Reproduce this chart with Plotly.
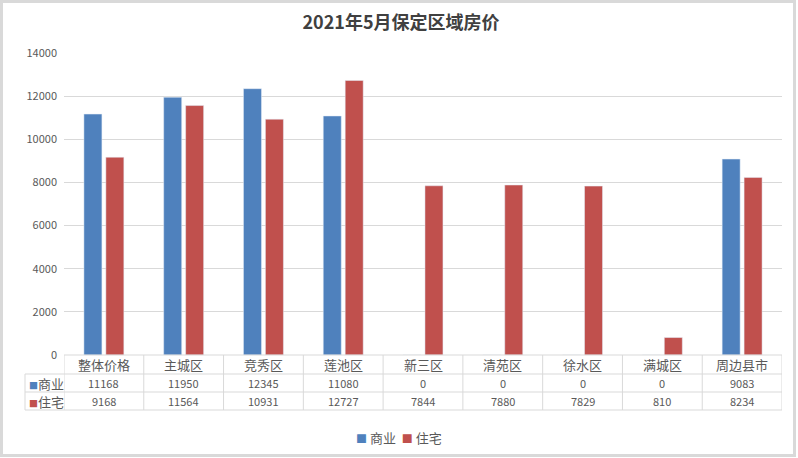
import plotly.graph_objects as go

# data
categories = ["整体价格", "主城区", "竞秀区", "莲池区", "新三区", "清苑区", "徐水区", "满城区", "周边县市"]
commercial = [11168, 11950, 12345, 11080, 0, 0, 0, 0, 9083]
residential = [9168, 11564, 10931, 12727, 7844, 7880, 7829, 810, 8234]
series_names = ["商业", "住宅"]
y_ticks = [0, 2000, 4000, 6000, 8000, 10000, 12000, 14000]

W, H = 798, 458
L, R, T, B = 64, 16, 53, 103
PW, PH = W - L - R, H - T - B

BLUE = "#4F81BD"
RED = "#C0504D"
GRID = "#D9D9D9"
TXT = "#595959"
FONT = "Noto Sans CJK SC, Microsoft YaHei, sans-serif"


def px_x(px):
    return (px - L) / PW


def px_y(py):
    return (H - B - py) / PH


fig = go.Figure()
fig.add_trace(go.Bar(x=categories, y=commercial, name=series_names[0], marker_color=BLUE))
fig.add_trace(go.Bar(x=categories, y=residential, name=series_names[1], marker_color=RED))

shapes = []
# outer frame
shapes.append(dict(type="rect", xref="paper", yref="paper",
                   x0=px_x(1.5), x1=px_x(W - 3.5), y0=px_y(1.5), y1=px_y(H - 2.5),
                   line=dict(color=GRID, width=3), layer="below"))

# data table grid
row_lines = [355, 374, 392, 410]
for i, py in enumerate(row_lines):
    x0 = px_x(64) if i == 0 else px_x(25)
    shapes.append(dict(type="line", xref="paper", yref="paper", x0=x0, x1=1,
                       y0=px_y(py), y1=px_y(py), line=dict(color=GRID, width=1)))
for i in range(len(categories) + 1):
    shapes.append(dict(type="line", xref="x", yref="paper", x0=i - 0.5, x1=i - 0.5,
                       y0=px_y(355), y1=px_y(410), line=dict(color=GRID, width=1)))
shapes.append(dict(type="line", xref="paper", yref="paper", x0=px_x(25), x1=px_x(25),
                   y0=px_y(374), y1=px_y(410), line=dict(color=GRID, width=1)))

annotations = []


def cell(x, xref, py, text, size, xanchor="center"):
    annotations.append(dict(x=x, xref=xref, y=px_y(py), yref="paper", text=text,
                            xanchor=xanchor, yanchor="middle", showarrow=False,
                            font=dict(size=size, color=TXT)))


for c, v1, v2 in zip(categories, commercial, residential):
    cell(c, "x", 364.5, c, 13)
    cell(c, "x", 383, str(v1), 11)
    cell(c, "x", 401, str(v2), 11)
for name, color, py in [(series_names[0], BLUE, 383), (series_names[1], RED, 401)]:
    cell(px_x(27), "paper", py,
         f"<span style='color:{color};font-size:9px'>■</span>{name}", 13, xanchor="left")

# legend below the table
legend_text = "  ".join(
    f"<span style='color:{c};font-size:11px'>■</span> {n}"
    for n, c in zip(series_names, [BLUE, RED])
)
cell(px_x(399), "paper", 437, legend_text, 13)

fig.update_layout(
    width=W, height=H,
    margin=dict(l=L, r=R, t=T, b=B, autoexpand=False),
    paper_bgcolor="white", plot_bgcolor="white",
    font=dict(family=FONT, color=TXT),
    title=dict(text="<b>2021年5月保定区域房价</b>", x=401 / W, xref="container", xanchor="center",
               y=1 - 23 / H, yanchor="middle", font=dict(size=18, color="#404040")),
    barmode="group", bargap=0.45, bargroupgap=0.18,
    showlegend=False,
    xaxis=dict(type="category", range=[-0.5, len(categories) - 0.5], showticklabels=False,
               showgrid=False, zeroline=False, showline=False, ticks=""),
    yaxis=dict(range=[0, 14000], tickvals=y_ticks, ticktext=[str(v) for v in y_ticks],
               gridcolor=GRID, gridwidth=1, zeroline=False,
               showline=False, ticks="", tickfont=dict(size=11, color=TXT), ticklabelstandoff=6),
    shapes=shapes, annotations=annotations,
)

fig.write_html("out.html", config={"displayModeBar": False},
               post_script="document.body.style.margin='0px';")
